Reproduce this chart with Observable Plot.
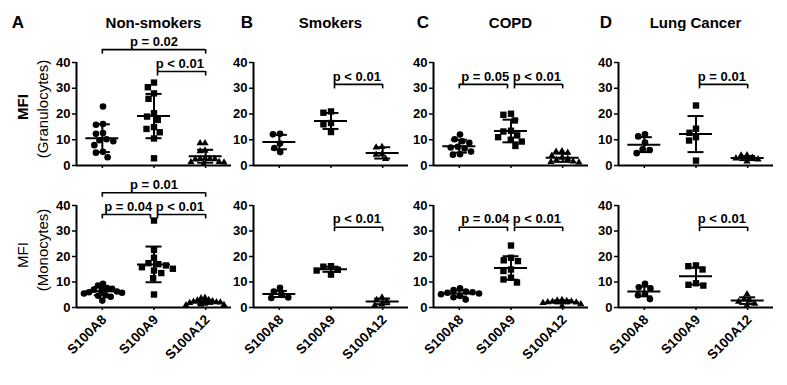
<!DOCTYPE html>
<html><head><meta charset="utf-8">
<script src="https://cdn.jsdelivr.net/npm/d3@7"></script>
<script src="https://cdn.jsdelivr.net/npm/@observablehq/plot@0.6"></script>
<style>
body{margin:0;background:#fff;}
#chart{position:relative;width:787px;height:385px;overflow:hidden;font-family:"Liberation Sans",Arial,sans-serif;color:#000;}
.lbl{position:absolute;white-space:nowrap;transform:translate(-50%,-50%);line-height:1;}
.rot{transform:translate(-50%,-50%) rotate(-90deg);}
</style></head><body><div id="chart"></div>
<script>
// ---------- data ----------
const markers = ["S100A8", "S100A9", "S100A12"];
const groups = ["Non-smokers", "Smokers", "COPD", "Lung Cancer"];
const letters = ["A", "B", "C", "D"];
const yTicks = [0, 10, 20, 30, 40];

// individual MFI values, [S100A8, S100A9, S100A12]
const granNonSmokers = [
  [22.9, 16.1, 15.8, 12.6, 12.3, 10.2, 9.8, 9.4, 7.9, 5.3, 5.0, 3.2],
  [32.2, 30.4, 28.0, 25.9, 20.3, 19.0, 17.7, 14.9, 14.2, 12.9, 10.5, 2.8],
  [8.7, 8.7, 5.8, 5.6, 2.8, 2.6, 2.6, 2.5, 2.4, 1.4, 1.3, 1.2, 0.6]
];
const granSmokers = [
  [12.3, 12.1, 8.5, 6.8, 5.2],
  [21.0, 20.5, 16.5, 16.0, 13.0],
  [7.2, 7.0, 4.4, 4.2, 2.6]
];
const granCOPD = [
  [12.0, 10.2, 9.4, 8.8, 7.3, 7.0, 6.6, 5.4, 4.4, 4.2],
  [20.1, 19.7, 17.5, 13.5, 13.2, 11.7, 11.0, 10.0, 9.3, 7.6],
  [5.6, 5.4, 5.0, 3.8, 3.0, 2.6, 2.2, 1.6, 1.4, 1.2]
];
const granLungCancer = [
  [12.1, 11.3, 8.9, 6.3, 6.0, 4.8],
  [23.3, 14.3, 12.7, 11.0, 9.7, 1.9],
  [4.0, 3.9, 3.0, 2.8, 2.4, 1.6]
];
const monoNonSmokers = [
  [9.3, 8.6, 7.6, 7.3, 7.0, 6.6, 6.3, 6.0, 5.8, 5.5, 4.8, 4.6, 4.2, 2.7],
  [34.1, 22.6, 19.5, 17.4, 17.0, 16.5, 15.8, 15.2, 14.5, 13.5, 11.5, 5.1],
  [3.8, 3.6, 3.0, 2.8, 2.5, 2.3, 2.1, 2.0, 1.8, 1.5, 1.2, 1.0, 0.9]
];
const monoSmokers = [
  [7.7, 6.3, 5.0, 3.9, 3.7],
  [16.2, 16.0, 14.8, 14.5, 12.9],
  [3.9, 3.0, 2.5, 1.2, 0.8]
];
const monoCOPD = [
  [7.5, 6.8, 6.3, 6.0, 5.8, 5.5, 5.2, 4.5, 4.0, 3.1],
  [24.3, 19.5, 18.5, 18.2, 14.9, 14.3, 11.7, 11.0, 9.8],
  [3.0, 2.8, 2.6, 2.4, 2.3, 2.1, 2.0, 1.8, 1.3, 0.5]
];
const monoLungCancer = [
  [9.3, 7.9, 7.5, 5.3, 4.8, 3.3],
  [16.5, 16.2, 14.9, 9.5, 8.9, 8.6],
  [5.2, 3.2, 2.8, 2.3, 1.5, 0.8]
];

// mean and SD bars as drawn, [group][marker]
const granMean = [[10.6, 19.2, 3.6], [9.1, 17.3, 4.9], [7.5, 13.4, 3.0], [8.1, 12.2, 2.9]];
const granSD   = [[5.4, 8.6, 2.5], [2.8, 3.1, 2.2], [2.5, 4.4, 1.6], [2.9, 7.0, 0.8]];
const monoMean = [[6.4, 16.9, 2.2], [5.3, 15.0, 2.4], [5.5, 15.5, 2.2], [6.3, 12.3, 2.7]];
const monoSD   = [[1.6, 7.0, 0.8], [1.2, 1.0, 1.1], [1.2, 4.6, 0.6], [1.9, 3.3, 1.3]];

// significance brackets: [group, from, to, label]
const granBrackets = [
  ["Non-smokers", "S100A8", "S100A12", "p = 0.02"],
  ["Non-smokers", "S100A9", "S100A12", "p < 0.01"],
  ["Smokers", "S100A9", "S100A12", "p < 0.01"],
  ["COPD", "S100A8", "S100A9", "p = 0.05"],
  ["COPD", "S100A9", "S100A12", "p < 0.01"],
  ["Lung Cancer", "S100A9", "S100A12", "p = 0.01"]
];
const monoBrackets = [
  ["Non-smokers", "S100A8", "S100A12", "p = 0.01"],
  ["Non-smokers", "S100A8", "S100A9", "p = 0.04"],
  ["Non-smokers", "S100A9", "S100A12", "p < 0.01"],
  ["Smokers", "S100A9", "S100A12", "p < 0.01"],
  ["COPD", "S100A8", "S100A9", "p = 0.04"],
  ["COPD", "S100A9", "S100A12", "p < 0.01"],
  ["Lung Cancer", "S100A9", "S100A12", "p < 0.01"]
];

// ---------- layout ----------
const FONT = '"Liberation Sans", Arial, sans-serif';
const L = {
  axisX: [76, 253, 433, 618],
  letterX: [18, 247, 423, 606],
  titleY: 22,
  mLeft: 40, mRight: 10, plotW: 155,
  maxHalfSpread: 19,
  rows: [
    {top: 30, mt: 32, ph: 103, mb: 10, labels: false},
    {top: 172, mt: 33, ph: 102, mb: 78, labels: true}
  ]
};
const SYM = [
  {symbol: "circle", r: 3.3},
  {symbol: "square", r: 3.6},
  {symbol: "triangle", r: 2.7}
];

const rows = [
  {data: [granNonSmokers, granSmokers, granCOPD, granLungCancer], mean: granMean, sd: granSD, brackets: granBrackets},
  {data: [monoNonSmokers, monoSmokers, monoCOPD, monoLungCancer], mean: monoMean, sd: monoSD, brackets: monoBrackets}
];

const chart = document.getElementById("chart");
const xDomain = [-0.5, markers.length - 0.5];
const tickData = markers.map((m, i) => ({i, m}));

function addLabel(text, x, y, size, weight, rotate) {
  const d = document.createElement("div");
  d.className = "lbl" + (rotate ? " rot" : "");
  d.textContent = text;
  d.style.left = x + "px";
  d.style.top = y + "px";
  d.style.fontSize = size + "px";
  d.style.fontWeight = weight;
  chart.appendChild(d);
}

// beeswarm like GraphPad: dodge, then limit the horizontal spread (points may overlap)
function swarm(opts) {
  const dodged = Plot.dodgeX({anchor: "middle", padding: 0.5}, opts);
  if (typeof Plot.initializer !== "function") return dodged;
  return Plot.initializer(dodged, function (data, facets, channels, scales, dim) {
    const X = channels.x.value;
    const c = (dim.marginLeft + dim.width - dim.marginRight) / 2;
    const X2 = Array.from(X);
    for (const I of facets) {
      let m = 0;
      for (const i of I) m = Math.max(m, Math.abs(X[i] - c));
      const k = m > L.maxHalfSpread ? L.maxHalfSpread / m : 1;
      for (const i of I) X2[i] = c + (X[i] - c) * k;
    }
    return {data, facets, channels: {x: {...channels.x, value: X2}}};
  });
}

rows.forEach((row, ri) => {
  const lay = L.rows[ri];
  const H = lay.mt + lay.ph + lay.mb;
  groups.forEach((g, gi) => {
    const left = L.axisX[gi] - L.mLeft;
    const points = row.data[gi].flatMap((vals, mi) => vals.map(v => ({marker: markers[mi], value: v})));
    const stats = markers.map((m, mi) => ({i: mi, mean: row.mean[gi][mi], sd: row.sd[gi][mi]}));
    const br = row.brackets.filter(b => b[0] === g).map(([grp, from, to, label]) => {
      const fi = markers.indexOf(from), ti = markers.indexOf(to);
      const maxV = d3.max(row.data[gi].slice(fi, ti + 1).flat());
      const level = ti - fi === 2 ? 45 : (maxV > 30 ? 36.5 : 31.5);
      return {fi, ti, label, level};
    });
    const styleBase = {background: "transparent", fontFamily: FONT, fontSize: "13px", fontWeight: "bold", color: "black", overflow: "visible", position: "absolute", left: left + "px", top: lay.top + "px", maxWidth: "none"};

    const bracketMarks = br.flatMap(b => {
      const il = b.fi === 1 ? 3.5 : 0, ir = b.ti === 1 ? 3.5 : 0;
      return [
        Plot.ruleY([b], {x1: "fi", x2: "ti", y: "level", insetLeft: il, insetRight: ir, strokeWidth: 1.6}),
        Plot.ruleX([b], {x: "fi", y1: "level", y2: "level", dx: il, insetBottom: -4.5, strokeWidth: 1.6}),
        Plot.ruleX([b], {x: "ti", y1: "level", y2: "level", dx: -ir, insetBottom: -4.5, strokeWidth: 1.6}),
        Plot.text([b], {x: d => (d.fi + d.ti) / 2, y: "level", dy: -8, text: "label", fontSize: 13, fontWeight: "bold"})
      ];
    });

    const base = Plot.plot({
      width: L.mLeft + L.plotW + L.mRight, height: H,
      marginLeft: L.mLeft, marginRight: L.mRight, marginTop: lay.mt, marginBottom: lay.mb,
      style: styleBase,
      x: {domain: xDomain},
      y: {domain: [0, 40]},
      marks: [
        Plot.axisY({ticks: yTicks, tickSize: 4, tickPadding: 2, strokeWidth: 1.5, label: null}),
        Plot.axisX({ticks: [0, 1, 2], tickSize: 3, tickPadding: 3, strokeWidth: 1.5, label: null, tickFormat: () => ""}),
        lay.labels ? Plot.text(tickData, {x: "i", y: () => 0, text: "m", rotate: -45, textAnchor: "end",
          lineAnchor: "bottom", dx: 5, dy: 13, fontSize: 13.5, fontWeight: "bold"}) : null,
        Plot.ruleX([xDomain[0]], {strokeWidth: 2}),
        Plot.ruleY([0], {strokeWidth: 2}),
        Plot.ruleY(stats, {x1: "i", x2: "i", y: "mean", insetLeft: -16.5, insetRight: -16.5, strokeWidth: 2}),
        Plot.ruleY(stats, {x1: "i", x2: "i", y: d => d.mean + d.sd, insetLeft: -8, insetRight: -8, strokeWidth: 2}),
        Plot.ruleY(stats, {x1: "i", x2: "i", y: d => d.mean - d.sd, insetLeft: -8, insetRight: -8, strokeWidth: 2}),
        Plot.ruleX(stats, {x: "i", y1: d => d.mean - d.sd, y2: d => d.mean + d.sd, strokeWidth: 2}),
        ...bracketMarks
      ]
    });
    chart.appendChild(base);

    const dots = Plot.plot({
      width: L.mLeft + L.plotW + L.mRight, height: H,
      marginLeft: L.mLeft, marginRight: L.mRight, marginTop: lay.mt, marginBottom: lay.mb,
      style: styleBase,
      fx: {domain: markers, padding: 0, axis: null},
      y: {domain: [0, 40], axis: null},
      marks: markers.map((m, mi) => Plot.dot(points.filter(d => d.marker === m),
        swarm({fx: "marker", y: "value", r: SYM[mi].r, symbol: SYM[mi].symbol, fill: "black", stroke: "none"})))
    });
    chart.appendChild(dots);
  });
});

// titles and panel letters
groups.forEach((g, gi) => {
  addLabel(letters[gi], L.letterX[gi], L.titleY, 17, "bold");
  addLabel(g, L.axisX[gi] + L.plotW / 2, L.titleY, 15, "bold");
});
// y-axis titles
addLabel("MFI", 22, 107, 15, "bold", true);
addLabel("(Granulocytes)", 42, 109, 15, "normal", true);
addLabel("MFI", 22, 255, 15, "normal", true);
addLabel("(Monocytes)", 42, 250, 15, "normal", true);
</script></body></html>
